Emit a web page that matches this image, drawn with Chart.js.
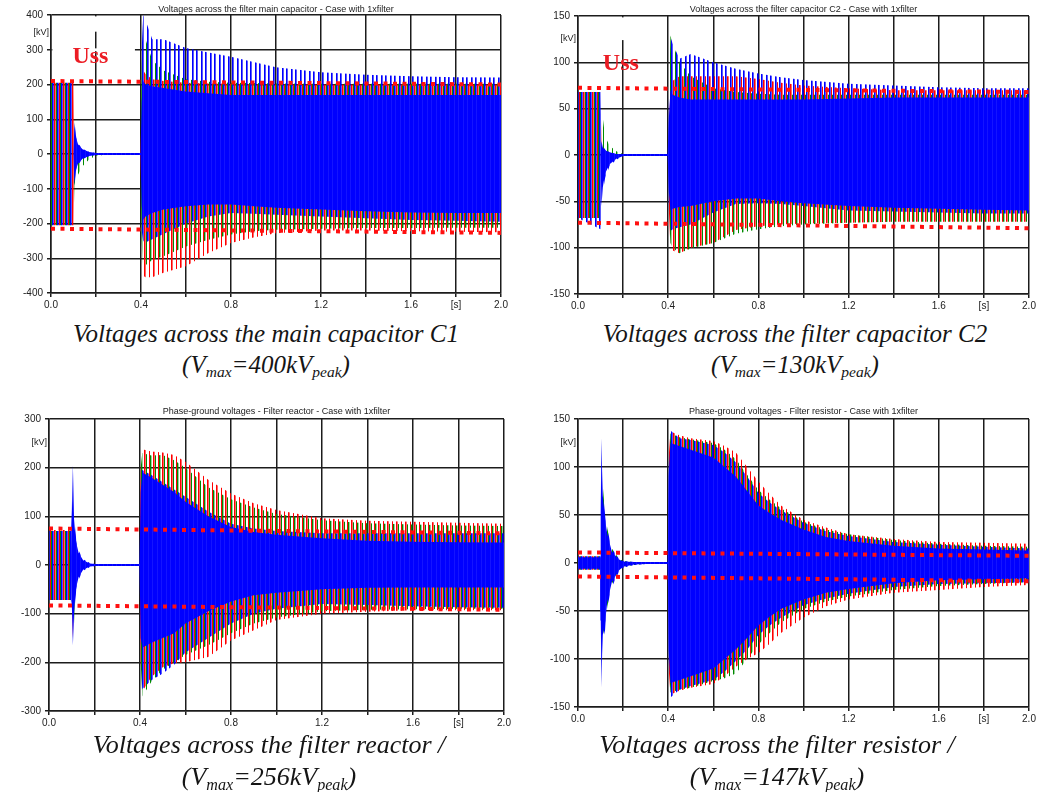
<!DOCTYPE html>
<html>
<head>
<meta charset="utf-8">
<script src="https://cdn.jsdelivr.net/npm/chart.js@4.4.1/dist/chart.umd.min.js"></script>
<style>
body { margin: 0; background: #fff; width: 1043px; height: 792px; position: relative; overflow: hidden; }
canvas { position: absolute; }
.cap { position: absolute; width: 500px; text-align: center; white-space: nowrap; color: #151515;
       font-family: "Liberation Serif", "Times New Roman", serif; font-style: italic; }
.cap sub { font-size: 62%; vertical-align: -0.28em; line-height: 0; }
</style>
</head>
<body>
<canvas id="c1" width="520" height="315" style="left:0;top:0"></canvas>
<canvas id="c2" width="523" height="316" style="left:520px;top:0"></canvas>
<canvas id="c3" width="520" height="333" style="left:0;top:400px"></canvas>
<canvas id="c4" width="523" height="329" style="left:520px;top:400px"></canvas>

<div class="cap" style="left:16px;top:318px;font-size:25px;line-height:31px">Voltages across the main capacitor C1<br>(V<sub>max</sub>=400kV<sub>peak</sub>)</div>
<div class="cap" style="left:545px;top:318px;font-size:25px;line-height:31px">Voltages across the filter capacitor C2<br>(V<sub>max</sub>=130kV<sub>peak</sub>)</div>
<div class="cap" style="left:19px;top:729px;font-size:26px;line-height:32px">Voltages across the filter reactor /<br>(V<sub>max</sub>=256kV<sub>peak</sub>)</div>
<div class="cap" style="left:527px;top:729px;font-size:26px;line-height:32px">Voltages across the filter resistor /<br>(V<sub>max</sub>=147kV<sub>peak</sub>)</div>

<script>
// x axis labels (grid every 0.2 s)
const xTickLabels = ['0.0', '', '0.4', '', '0.8', '', '1.2', '', '1.6', '[s]', '2.0'];
const ussT = [0, 2.0];

// ---- main capacitor C1 (envelopes, kV) ----
const t1 = [0, 0.1, 0.104, 0.11, 0.12, 0.14, 0.17, 0.2, 0.25, 0.398, 0.403, 0.41, 0.42, 0.45, 0.5, 0.6, 0.7, 0.8, 0.9, 1.0, 1.2, 1.4, 1.6, 1.8, 2.0];
const red1Hi = [205, 205, 20, 8, 5, 3, 2, 1, 1, 1, 150, 240, 230, 215, 210, 205, 203, 202, 201, 200, 200, 200, 200, 200, 200];
const red1Lo = [-205, -205, -20, -8, -5, -3, -2, -1, -1, -1, -200, -350, -355, -355, -342, -323, -285, -256, -240, -228, -220, -220, -222, -224, -225];
const green1Hi = [205, 205, 30, 15, 8, 4, 2, 1, 1, 1, 250, 400, 330, 270, 240, 215, 208, 205, 204, 203, 202, 202, 202, 202, 202];
const green1Lo = [-205, -205, -90, -70, -60, -35, -15, -5, -2, -1, -250, -335, -320, -305, -294, -266, -247, -232, -222, -218, -215, -213, -213, -212, -212];
const blue1Hi = [205, 205, 100, 55, 30, 15, 6, 3, 3, 3, 300, 400, 385, 330, 330, 305, 292, 280, 265, 250, 235, 228, 224, 221, 220];
const blue1Lo = [-205, -205, -100, -50, -30, -15, -6, -3, -3, -3, -220, -250, -255, -245, -230, -200, -180, -170, -172, -175, -180, -185, -190, -192, -195];
const core1Hi = [0, 0, 90, 50, 28, 14, 6, 3, 3, 3, 150, 210, 200, 195, 190, 180, 175, 170, 170, 170, 170, 170, 170, 170, 170];
const core1Lo = [0, 0, -90, -45, -28, -14, -6, -3, -3, -3, -150, -190, -180, -170, -160, -150, -145, -145, -150, -155, -160, -165, -168, -170, -170];
const uss1Hi = [210, 200];
const uss1Lo = [-215, -227];

// ---- filter capacitor C2 ----
const t2 = [0, 0.1, 0.104, 0.11, 0.12, 0.14, 0.17, 0.2, 0.25, 0.398, 0.403, 0.41, 0.42, 0.45, 0.5, 0.6, 0.7, 0.8, 0.9, 1.0, 1.2, 1.4, 1.6, 1.8, 2.0];
const red2Hi = [68, 68, 10, 5, 3, 2, 1, 0.5, 0.5, 0.5, 30, 70, 80, 85, 85, 85, 85, 82, 78, 75, 72, 70, 70, 70, 70];
const red2Lo = [-68, -68, -10, -5, -3, -2, -1, -0.5, -0.5, -0.5, -60, -100, -103, -106, -100, -95, -81, -77, -75, -74, -73, -72, -72, -72, -72];
const green2Hi = [68, 68, 55, 40, 20, 10, 4, 1, 1, 1, 60, 129, 120, 100, 85, 72, 68, 66, 65, 65, 65, 65, 65, 65, 65];
const green2Lo = [-68, -68, -20, -10, -5, -3, -1, -1, -1, -1, -60, -95, -100, -106, -101, -95, -85, -80, -77, -75, -73, -72, -72, -72, -72];
const blue2Hi = [68, 68, 20, 10, 6, 3, 1, 1, 1, 1, 60, 127, 120, 104, 109, 100, 93, 88, 84, 81, 77, 75, 73, 72, 72];
const blue2Lo = [-68, -80, -60, -40, -25, -12, -5, -1, -1, -1, -60, -82, -80, -78, -75, -62, -53, -52, -53, -55, -60, -61, -62, -63, -63];
const core2Hi = [0, 0, 15, 8, 5, 3, 1, 1, 1, 1, 40, 70, 65, 62, 60, 60, 60, 60, 60, 60, 61, 62, 62, 62, 62];
const core2Lo = [0, 0, -55, -35, -20, -10, -4, -1, -1, -1, -40, -60, -58, -56, -55, -50, -47, -47, -50, -52, -55, -57, -58, -59, -60];
const uss2Hi = [72.5, 68];
const uss2Lo = [-73, -79];

// ---- filter reactor ----
const t3 = [0, 0.096, 0.1, 0.105, 0.11, 0.115, 0.12, 0.13, 0.15, 0.18, 0.2, 0.25, 0.398, 0.403, 0.41, 0.45, 0.5, 0.55, 0.6, 0.7, 0.8, 0.9, 1.0, 1.2, 1.4, 1.6, 1.8, 2.0];
const red3Hi = [72, 72, 20, 20, 15, 10, 5, 3, 1, 1, 1, 1, 1, 200, 238, 233, 231, 226, 212, 175, 147, 127, 113, 96, 91, 89, 87, 85];
const red3Lo = [-72, -72, -20, -150, -60, -30, -15, -8, -3, -1, -1, -1, -1, -200, -260, -230, -210, -202, -200, -189, -155, -134, -113, -100, -96, -93, -93, -93];
const green3Hi = [70, 70, 30, 60, 40, 20, 10, 5, 2, 1, 1, 1, 1, 200, 230, 225, 226, 215, 200, 160, 135, 118, 105, 92, 86, 83, 81, 80];
const green3Lo = [-72, -72, -100, -190, -120, -50, -25, -12, -5, -2, -1, -1, -1, -200, -270, -240, -215, -200, -185, -165, -140, -120, -108, -95, -92, -91, -90, -90];
const blue3Hi = [70, 70, 110, 215, 110, 75, 50, 30, 12, 4, 2, 1, 1, 190, 195, 185, 170, 155, 140, 110, 85, 75, 70, 65, 65, 65, 65, 65];
const blue3Lo = [-72, -72, -80, -155, -110, -75, -50, -30, -12, -4, -2, -1, -1, -190, -255, -237, -223, -205, -180, -150, -120, -100, -90, -80, -82, -85, -87, -88];
const core3Hi = [0, 0, 90, 205, 95, 65, 45, 25, 10, 3, 2, 2, 2, 150, 190, 180, 165, 150, 130, 100, 78, 68, 62, 55, 50, 48, 47, 46];
const core3Lo = [0, 0, -70, -165, -100, -65, -45, -25, -10, -3, -2, -2, -2, -150, -170, -160, -150, -140, -120, -95, -75, -62, -57, -50, -47, -46, -46, -46];
const uss3Hi = [75, 65];
const uss3Lo = [-83, -92];

// ---- filter resistor ----
const t4 = [0, 0.098, 0.101, 0.104, 0.107, 0.11, 0.12, 0.13, 0.15, 0.18, 0.2, 0.25, 0.3, 0.398, 0.402, 0.41, 0.45, 0.5, 0.6, 0.65, 0.7, 0.75, 0.8, 0.85, 0.9, 1.0, 1.1, 1.2, 1.4, 1.6, 1.8, 2.0];
const red4Hi = [7, 7, 10, 40, 30, 20, 12, 8, 4, 2, 1, 0.5, 0.5, 0.5, 110, 137, 133, 130, 127, 122, 115, 100, 85, 72, 60, 45, 37, 30, 25, 22, 21, 20];
const red4Lo = [-7, -7, -10, -40, -30, -20, -12, -8, -4, -2, -1, -0.5, -0.5, -0.5, -110, -137, -133, -130, -126, -118, -108, -100, -94, -84, -73, -57, -45, -38, -31, -28, -25, -23];
const green4Hi = [7, 7, 50, 128, 105, 80, 52, 36, 15, 5, 2, 1, 0.5, 0.5, 100, 135, 131, 129, 125, 118, 108, 92, 76, 66, 57, 43, 35, 30, 24, 20, 18, 17];
const green4Lo = [-7, -7, -50, -130, -100, -75, -65, -45, -22, -8, -4, -2, -1, -0.5, -100, -135, -132, -130, -123, -120, -115, -100, -85, -73, -62, -48, -40, -35, -28, -24, -22, -20];
const blue4Hi = [7, 7, 60, 137, 100, 76, 50, 35, 15, 5, 2, 1, 0.5, 0.5, 100, 138, 130, 128, 123, 115, 105, 90, 73, 63, 55, 42, 33, 28, 22, 19, 17, 15];
const blue4Lo = [-7, -7, -60, -137, -100, -80, -70, -45, -25, -10, -5, -2, -1, -0.5, -100, -140, -132, -128, -122, -113, -102, -90, -75, -65, -57, -44, -37, -32, -25, -22, -21, -20];
const core4Hi = [6, 6, 50, 130, 95, 70, 45, 30, 12, 4, 1.5, 1, 1, 1, 90, 125, 122, 118, 110, 100, 90, 75, 60, 52, 45, 35, 27, 23, 18, 15, 14, 13];
const core4Lo = [-6, -6, -50, -130, -95, -75, -62, -40, -20, -8, -4, -1.5, -1, -1, -90, -125, -122, -118, -110, -100, -90, -78, -65, -56, -48, -38, -31, -27, -21, -18, -17, -16];
const uss4Hi = [11, 7.5];
const uss4Lo = [-14, -19];

const gridCol = '#1c1c1c';
const tickFont = { family: '"Liberation Sans", Arial, sans-serif', size: 10 };

// vertical stripe fills, one column = one pixel (50 Hz cycles ~ 4.5px)
function stripes(cols) {
    const c = document.createElement('canvas');
    c.width = 9; c.height = 1;
    const g = c.getContext('2d');
    cols.forEach(([i, col]) => { g.fillStyle = col; g.fillRect(i, 0, 1, 1); });
    return g.createPattern(c, 'repeat');
}
const redFill = stripes([[0, '#ff0000'], [1, 'rgba(255,0,0,0.6)'], [5, '#ff0000']]);
const greenFill = stripes([[2, '#008a00'], [6, '#008a00'], [7, 'rgba(0,138,0,0.4)']]);
const blueFill = stripes([[3, '#0000ff'], [4, 'rgba(0,0,255,0.65)'], [7, '#0000ff'], [8, 'rgba(0,0,255,0.65)']]);
const coreFill = stripes([[0, '#0000ff'], [1, '#0000ff'], [2, '#0000ff'], [3, '#0000ff'], [4, '#1414ff'],
                         [5, '#0000ff'], [6, '#0000ff'], [7, '#0000ff'], [8, '#1414ff']]);

function pts(t, arr) { return t.map((x, i) => ({ x: x, y: arr[i] })); }

function band(t, lo, hi, fill, order) {
    const base = { borderWidth: 0, borderColor: 'rgba(0,0,0,0)', pointRadius: 0, tension: 0, order: order };
    return [
        Object.assign({ data: pts(t, lo), fill: false }, base),
        Object.assign({ data: pts(t, hi), fill: '-1', backgroundColor: fill }, base)
    ];
}

function ussLine(vals) {
    return { data: pts(ussT, vals), borderColor: '#ff1010', borderWidth: 4, borderDash: [4, 5.5],
             borderCapStyle: 'butt', pointRadius: 0, fill: false, order: 0 };
}

// panel texts: small title, [kV], Uss label and white boxes that hide bits of grid
const panelText = {
    id: 'panelText',
    beforeDatasetsDraw(chart, args, opts) {
        const { ctx, scales: { x, y } } = chart;
        ctx.save();
        ctx.fillStyle = '#fff';
        (opts.masks || []).forEach(m => {
            const x0 = x.getPixelForValue(m[0]), x1 = x.getPixelForValue(m[1]);
            const y0 = y.getPixelForValue(m[3]), y1 = y.getPixelForValue(m[2]);
            ctx.fillRect(x0, y0, x1 - x0, y1 - y0);
        });
        ctx.restore();
    },
    afterDraw(chart, args, opts) {
        const { ctx, chartArea: a, scales: { x, y } } = chart;
        ctx.save();
        ctx.font = '9px "Liberation Sans", Arial, sans-serif';
        ctx.fillStyle = '#222';
        ctx.textBaseline = 'middle';
        ctx.textAlign = 'center';
        ctx.fillText(opts.title, (a.left + a.right) / 2, a.top - opts.titleGap);
        ctx.textAlign = 'right';
        ctx.fillText('[kV]', a.left - 2, a.top + opts.kvGap);
        if (opts.uss) {
            ctx.font = 'bold 24px "Liberation Serif", serif';
            ctx.fillStyle = '#ec1c24';
            ctx.textAlign = 'left';
            ctx.fillText('Uss', x.getPixelForValue(opts.uss[0]), y.getPixelForValue(opts.uss[1]));
        }
        ctx.restore();
    }
};

function makeChart(id, p) {
    const datasets = [].concat(
        band(p.t, p.redLo, p.redHi, redFill, 40),
        band(p.t, p.greenLo, p.greenHi, greenFill, 30),
        band(p.t, p.blueLo, p.blueHi, blueFill, 20),
        band(p.t, p.coreLo, p.coreHi, coreFill, 10),
        [ussLine(p.ussHi), ussLine(p.ussLo)]
    );
    return new Chart(document.getElementById(id), {
        type: 'line',
        data: { datasets: datasets },
        options: {
            responsive: false,
            animation: false,
            events: [],
            layout: { padding: { top: p.padTop, right: p.padRight, left: 0, bottom: 0 } },
            plugins: {
                legend: { display: false },
                tooltip: { enabled: false },
                panelText: { title: p.title, titleGap: p.titleGap, kvGap: p.kvGap, uss: p.uss, masks: p.masks }
            },
            scales: {
                x: {
                    type: 'linear', min: 0, max: 2,
                    afterFit: s => { s.height = 22; },
                    ticks: { stepSize: 0.2, autoSkip: false, maxRotation: 0, font: tickFont, color: '#222', padding: 2,
                             callback: v => xTickLabels[Math.round(v * 5)] },
                    grid: { color: gridCol, lineWidth: 1.5, tickLength: 4 },
                    border: { color: gridCol, width: 1.5 }
                },
                y: {
                    min: -p.yMax, max: p.yMax,
                    afterFit: s => { s.width = p.yWidth; },
                    ticks: { stepSize: p.yStep, font: tickFont, color: '#222', padding: 4 },
                    grid: { color: gridCol, lineWidth: 1.5, tickLength: 4 },
                    border: { color: gridCol, width: 1.5 }
                }
            }
        },
        plugins: [panelText]
    });
}

makeChart('c1', {
    t: t1, redHi: red1Hi, redLo: red1Lo, greenHi: green1Hi, greenLo: green1Lo, blueHi: blue1Hi, blueLo: blue1Lo,
    coreHi: core1Hi, coreLo: core1Lo, ussHi: uss1Hi, ussLo: uss1Lo,
    yMax: 400, yStep: 100, yWidth: 51, padTop: 15, padRight: 19, titleGap: 5, kvGap: 18,
    title: 'Voltages across the filter main capacitor - Case with 1xfilter',
    uss: [0.095, 279], masks: [[0.006, 0.373, 352, 396], [0.006, 0.373, 296, 304]]
});
makeChart('c2', {
    t: t2, redHi: red2Hi, redLo: red2Lo, greenHi: green2Hi, greenLo: green2Lo, blueHi: blue2Hi, blueLo: blue2Lo,
    coreHi: core2Hi, coreLo: core2Lo, ussHi: uss2Hi, ussLo: uss2Lo,
    yMax: 150, yStep: 50, yWidth: 58, padTop: 16, padRight: 14, titleGap: 6, kvGap: 23,
    title: 'Voltages across the filter capacitor C2 - Case with 1xfilter',
    uss: [0.11, 98], masks: [[0.006, 0.39, 124, 148.5]]
});
makeChart('c3', {
    t: t3, redHi: red3Hi, redLo: red3Lo, greenHi: green3Hi, greenLo: green3Lo, blueHi: blue3Hi, blueLo: blue3Lo,
    coreHi: core3Hi, coreLo: core3Lo, ussHi: uss3Hi, ussLo: uss3Lo,
    yMax: 300, yStep: 100, yWidth: 49, padTop: 19, padRight: 16, titleGap: 7, kvGap: 24,
    title: 'Phase-ground voltages - Filter reactor - Case with 1xfilter'
});
makeChart('c4', {
    t: t4, redHi: red4Hi, redLo: red4Lo, greenHi: green4Hi, greenLo: green4Lo, blueHi: blue4Hi, blueLo: blue4Lo,
    coreHi: core4Hi, coreLo: core4Lo, ussHi: uss4Hi, ussLo: uss4Lo,
    yMax: 150, yStep: 50, yWidth: 58, padTop: 19, padRight: 14, titleGap: 7, kvGap: 24,
    title: 'Phase-ground voltages - Filter resistor - Case with 1xfilter'
});
</script>
</body>
</html>
